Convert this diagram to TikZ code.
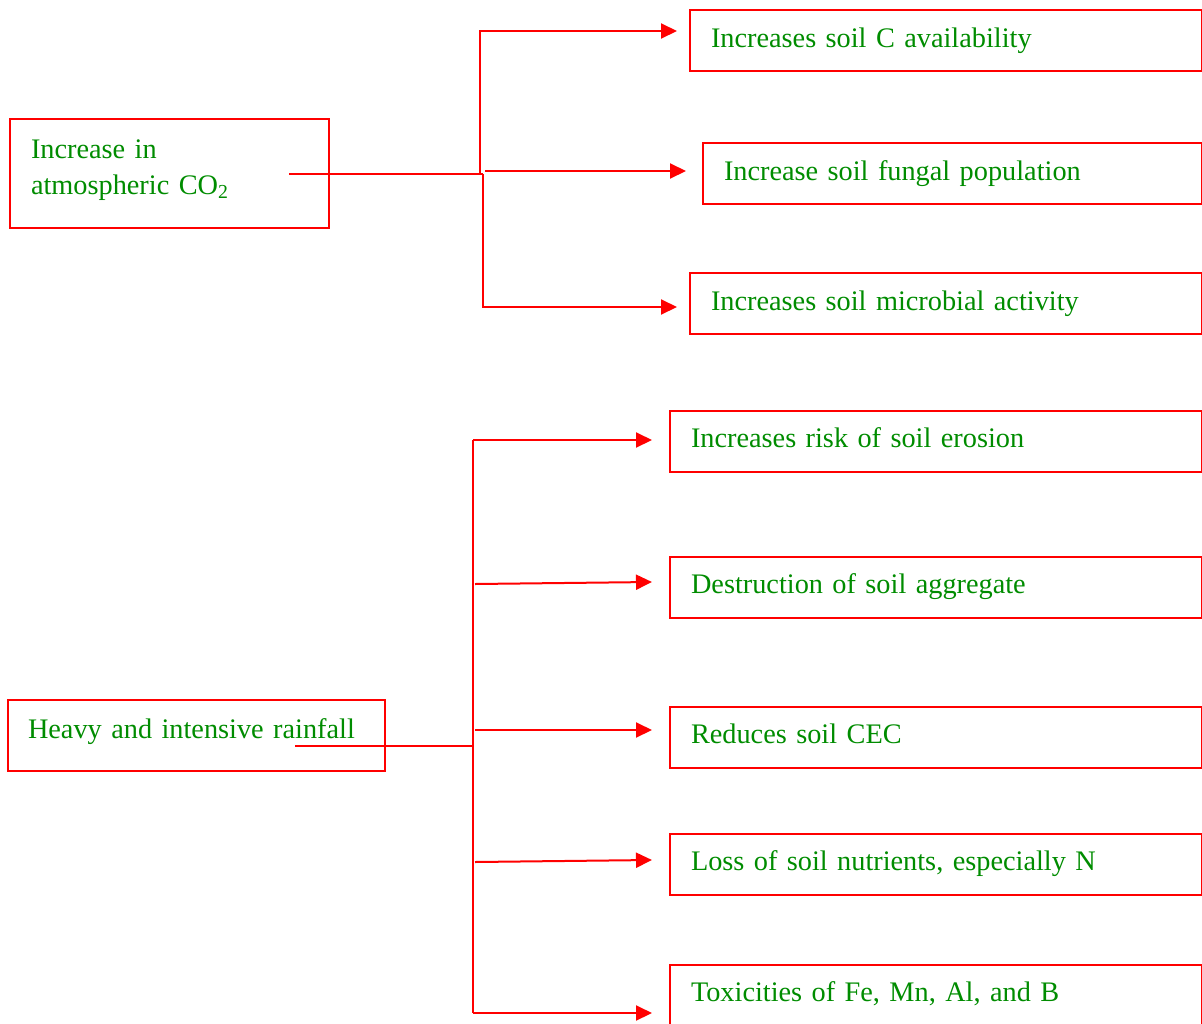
\documentclass[tikz,border=0pt]{standalone}
\usepackage{fontspec}
\setmainfont{Liberation Serif}
\usetikzlibrary{arrows.meta}
\definecolor{tgreen}{RGB}{0,140,0}
\definecolor{lred}{RGB}{255,0,0}
\begin{document}
\begin{tikzpicture}[x=1pt,y=-1pt,
  box/.style={draw=lred,line width=2pt,anchor=north west,inner xsep=21pt,inner ysep=0pt,
    text=tgreen,align=left,font=\fontsize{28.3}{36}\selectfont},
  lowbox/.style={box,text height=20pt,text depth=9pt},
  conn/.style={draw=lred,line width=2pt},
  arr/.style={conn,-{Triangle[length=16pt,width=15pt]}}]
\useasboundingbox (0,0) rectangle (1202,1023);
\clip (0,0) rectangle (1202,1023);
% top group
\node[box,text width=277,minimum height=109,text depth=49pt] (ca) at (9,118) {Increase in\\atmospheric CO\textsubscript{2}};
\node[box,text width=470,minimum height=61] (r1) at (689,9) {Increases soil C availability};
\node[box,text width=457,minimum height=61] (r2) at (702,142) {Increase soil fungal population};
\node[box,text width=470,minimum height=61] (r3) at (689,272) {Increases soil microbial activity};
\coordinate (a0) at (289,174);
\coordinate (aj) at (483,174);
\coordinate (aup) at (480,174);
\coordinate (t1) at (677,31);
\coordinate (s2) at (485,171);
\coordinate (t2) at (686,171);
\coordinate (t3) at (677,307);
\draw[conn] (a0) -- (aj);
\draw[arr] (aup) |- (t1);
\draw[arr] (s2) -- (t2);
\draw[arr] (aj) |- (t3);
% bottom group
\node[box,inner xsep=20pt,text width=337,minimum height=71,text height=20pt,text depth=14pt] (hr) at (7,699) {Heavy and intensive rainfall};
\node[lowbox,text width=490,minimum height=61] (b1) at (669,410) {Increases risk of soil erosion};
\node[lowbox,text width=490,minimum height=61] (b2) at (669,556) {Destruction of soil aggregate};
\node[lowbox,text width=490,minimum height=61] (b3) at (669,706) {Reduces soil CEC};
\node[lowbox,text width=490,minimum height=61] (b4) at (669,833) {Loss of soil nutrients, especially N};
\node[lowbox,text width=490,minimum height=61] (b5) at (669,964) {Toxicities of Fe, Mn, Al, and B};
\coordinate (h0) at (295,746);
\coordinate (hj) at (473,746);
\coordinate (vt) at (473,440);
\coordinate (vb) at (473,1013);
\coordinate (u1) at (652,440);
\coordinate (s2b) at (475,584);
\coordinate (u2) at (652,582);
\coordinate (s3b) at (475,730);
\coordinate (u3) at (652,730);
\coordinate (s4b) at (475,862);
\coordinate (u4) at (652,860);
\coordinate (u5) at (652,1013);
\draw[conn] (h0) -- (hj);
\draw[conn] (vt) -- (vb);
\draw[arr] (vt) -- (u1);
\draw[arr] (s2b) -- (u2);
\draw[arr] (s3b) -- (u3);
\draw[arr] (s4b) -- (u4);
\draw[arr] (vb) -- (u5);
\end{tikzpicture}
\end{document}
